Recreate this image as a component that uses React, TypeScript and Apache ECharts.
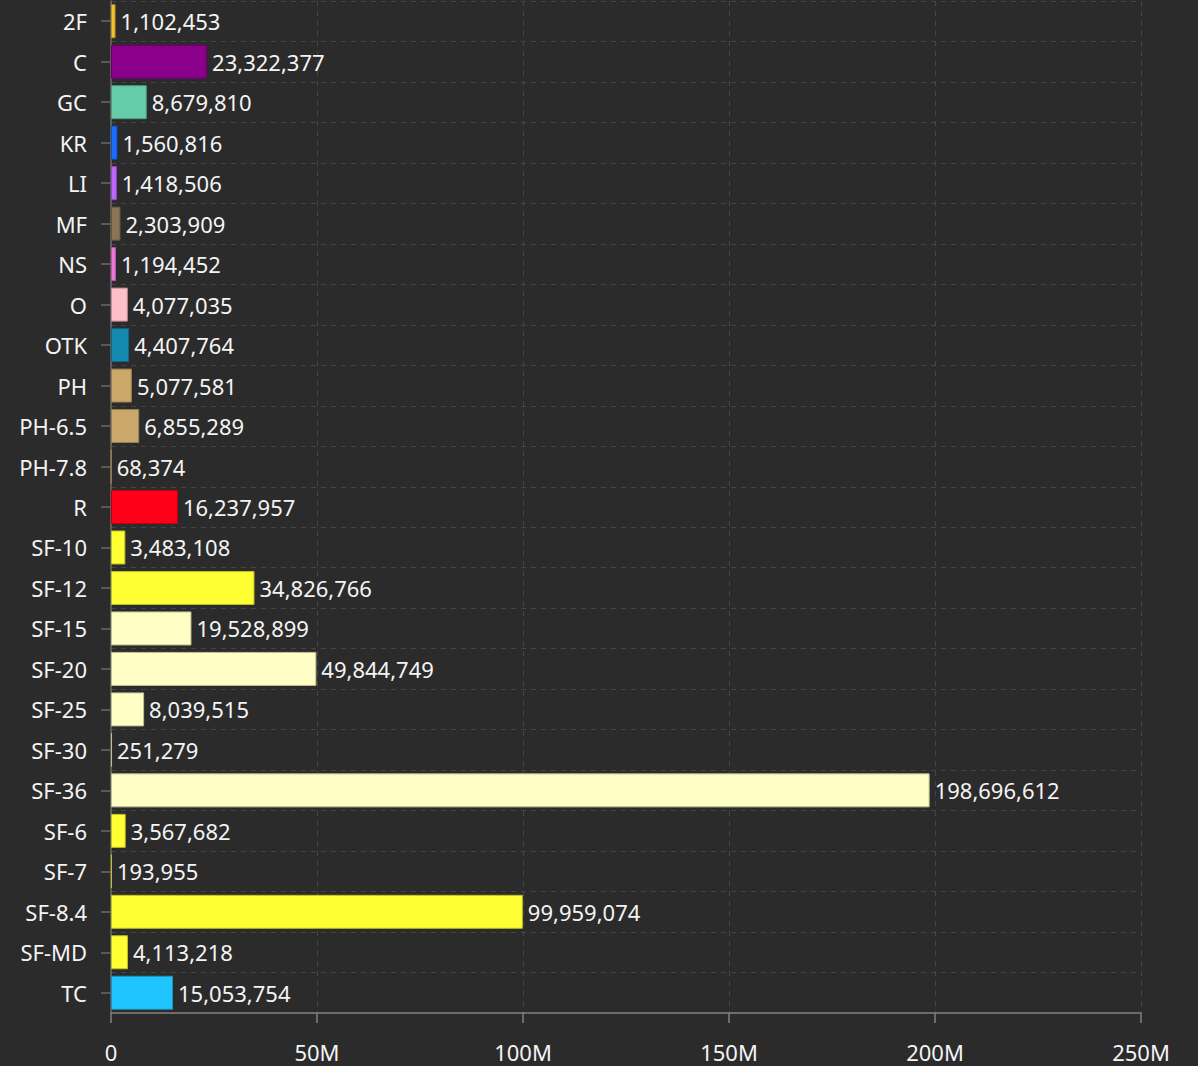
import React, { useEffect, useRef } from "react";
import * as echarts from "echarts";

const categories = [
  "2F", "C", "GC", "KR", "LI", "MF", "NS", "O", "OTK", "PH", "PH-6.5", "PH-7.8", "R",
  "SF-10", "SF-12", "SF-15", "SF-20", "SF-25", "SF-30", "SF-36", "SF-6", "SF-7", "SF-8.4", "SF-MD", "TC",
];

const values = [
  1102453, 23322377, 8679810, 1560816, 1418506, 2303909, 1194452, 4077035, 4407764, 5077581,
  6855289, 68374, 16237957, 3483108, 34826766, 19528899, 49844749, 8039515, 251279, 198696612,
  3567682, 193955, 99959074, 4113218, 15053754,
];

const barColors = [
  "#f5c02f", "#8b008b", "#66cdaa", "#1a6dff", "#c066ff", "#8b7355", "#ee77dd", "#ffbfc8", "#1689b0", "#c9a86a",
  "#c9a86a", "#c9a86a", "#ff0019", "#ffff33", "#ffff33", "#ffffc5", "#ffffc5", "#ffffc5", "#ffffc5", "#ffffc5",
  "#ffff33", "#ffff33", "#ffff33", "#ffff33", "#20c5ff",
];

const xTicks = [0, 50e6, 100e6, 150e6, 200e6, 250e6];

const FONT = "'Noto Sans', 'Open Sans', sans-serif";

function darken(hex: string, f: number): string {
  const n = parseInt(hex.slice(1), 16);
  const r = Math.round(((n >> 16) & 255) * f);
  const g = Math.round(((n >> 8) & 255) * f);
  const b = Math.round((n & 255) * f);
  return `rgb(${r},${g},${b})`;
}

export default function App() {
  const ref = useRef<HTMLDivElement>(null);
  useEffect(() => {
    if (!ref.current) return;
    const chart = echarts.init(ref.current, undefined, { renderer: "svg" });
    chart.setOption({
      animation: false,
      backgroundColor: "#2b2b2b",
      textStyle: { fontFamily: FONT },
      grid: { left: 111, right: 57, top: 1, bottom: 53, containLabel: false },
      xAxis: {
        type: "value",
        min: xTicks[0],
        max: xTicks[xTicks.length - 1],
        interval: xTicks[1] - xTicks[0],
        axisLine: { show: true, lineStyle: { color: "#808080", width: 1.5 } },
        axisTick: { show: true, length: 10, lineStyle: { color: "#808080", width: 1.5 } },
        axisLabel: {
          color: "#f4f4f4",
          fontSize: 22,
          fontFamily: FONT,
          margin: 28,
          formatter: (v: number) => (v === 0 ? "0" : `${v / 1e6}M`),
        },
        splitLine: { show: true, lineStyle: { color: "#454545", type: [5, 5], width: 1 } },
      },
      yAxis: {
        type: "category",
        data: categories,
        inverse: true,
        axisLine: { show: true, lineStyle: { color: "#6a6a6a", width: 1.5 } },
        axisTick: { show: true, alignWithLabel: true, length: 10, lineStyle: { color: "#6a6a6a", width: 1.5 } },
        axisLabel: { color: "#f4f4f4", fontSize: 22, fontFamily: FONT, margin: 24 },
        splitLine: { show: true, lineStyle: { color: "#454545", type: [5, 5], width: 1 } },
      },
      series: [
        {
          type: "bar",
          data: values.map((v, i) => ({
            value: v,
            itemStyle: { color: barColors[i], borderColor: darken(barColors[i], 0.75), borderWidth: 1 },
          })),
          barCategoryGap: "16%",
          label: {
            show: true,
            position: "right",
            distance: 5,
            color: "#f4f4f4",
            fontSize: 22,
            fontFamily: FONT,
            formatter: (p: any) => Number(p.value).toLocaleString("en-US"),
          },
        },
      ],
    });
    return () => chart.dispose();
  }, []);
  return (
    <div
      ref={ref}
      style={{ position: "absolute", left: 0, top: 0, width: 1198, height: 1066 }}
    />
  );
}
